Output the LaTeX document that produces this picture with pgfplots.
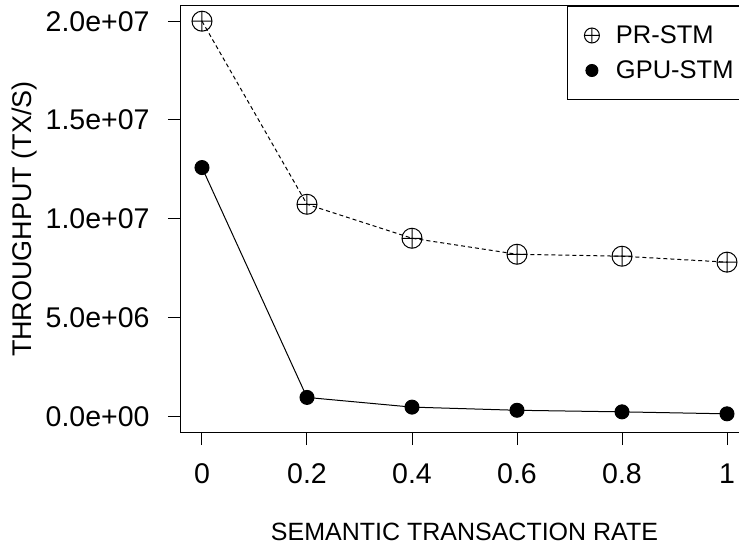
\documentclass[border=0pt]{standalone}
\usepackage{fontspec}
\setmainfont{Liberation Sans}
\usepackage{pgfplots}
\pgfplotsset{compat=1.18}
\newcommand\ticksize{\fontsize{28.5bp}{34bp}\selectfont}
\tikzset{ticklab/.style={font=\ticksize, inner sep=0pt, outer sep=0pt}}
\begin{document}
\begin{tikzpicture}
% page area; the frame runs slightly past its right edge
\useasboundingbox (-181bp,-117bp) rectangle (558bp,432bp);
\begin{axis}[
  scale only axis,
  width=567bp, height=426bp,
  xmin=-0.04, xmax=1.04,
  ymin=-8.0e5, ymax=2.077e7,
  clip=false,
  axis line style={line width=1bp, black},
  tick style={line width=1bp, black},
  tick align=outside,
  major tick length=13bp,
  tick pos=left,
  xtick={0,0.2,0.4,0.6,0.8,1},
  ytick={0,5e6,1e7,1.5e7,2e7},
  xticklabels={},
  yticklabels={},
  scaled y ticks=false,
  xlabel={SEMANTIC TRANSACTION RATE},
  ylabel={THROUGHPUT (TX/S)},
  xlabel style={font=\fontsize{25bp}{30bp}\selectfont, inner sep=0pt,
    at={(axis description cs:0.5,-0.2552)}, anchor=base},
  ylabel style={font=\fontsize{27bp}{32bp}\selectfont, inner sep=0pt,
    at={(axis description cs:-0.2628,0.5)}, anchor=base},
  legend style={at={(1,1)}, anchor=north east, draw=black, line width=1bp,
    inner xsep=14bp, inner ysep=11.5bp, row sep=0pt, column sep=0pt,
    font=\fontsize{25.5bp}{30bp}\selectfont, nodes={inner sep=0pt}},
  legend cell align=left,
]
\addplot[black, line width=1bp, dash pattern=on 4bp off 3bp,
  mark=oplus, mark size=10bp, mark options={solid},
  legend image code/.code={
    \path[draw=none] (-10bp,-17.5bp) rectangle (24bp,17.5bp);
    \draw[black, solid, line width=1bp, mark=oplus, mark size=7.5bp]
      plot[only marks] coordinates {(0bp,0bp)};}]
  coordinates {(0,2.0e7) (0.2,1.073e7) (0.4,9.01e6) (0.6,8.2e6) (0.8,8.1e6) (1,7.8e6)};
\addlegendentry{PR-STM}
\addplot[black, line width=1bp, mark=*, mark size=7bp, mark options={fill=black},
  legend image code/.code={
    \path[draw=none] (-10bp,-17.5bp) rectangle (24bp,17.5bp);
    \draw[black, fill=black, mark=*, mark size=6bp]
      plot[only marks] coordinates {(0bp,0bp)};}]
  coordinates {(0,1.259e7) (0.2,9.5e5) (0.4,4.6e5) (0.6,3.0e5) (0.8,2.2e5) (1,1.2e5)};
\addlegendentry{GPU-STM}
% tick labels, R style: scientific on y, plain on x
\node[ticklab, anchor=east] at ([xshift=-31.5bp]axis cs:-0.04,0) {0.0e+00};
\node[ticklab, anchor=east] at ([xshift=-31.5bp]axis cs:-0.04,5e6) {5.0e+06};
\node[ticklab, anchor=east] at ([xshift=-31.5bp]axis cs:-0.04,1e7) {1.0e+07};
\node[ticklab, anchor=east] at ([xshift=-31.5bp]axis cs:-0.04,1.5e7) {1.5e+07};
\node[ticklab, anchor=east] at ([xshift=-31.5bp]axis cs:-0.04,2e7) {2.0e+07};
\node[ticklab, anchor=base] at ([yshift=-51bp]axis cs:0,-8e5) {0};
\node[ticklab, anchor=base] at ([yshift=-51bp]axis cs:0.2,-8e5) {0.2};
\node[ticklab, anchor=base] at ([yshift=-51bp]axis cs:0.4,-8e5) {0.4};
\node[ticklab, anchor=base] at ([yshift=-51bp]axis cs:0.6,-8e5) {0.6};
\node[ticklab, anchor=base] at ([yshift=-51bp]axis cs:0.8,-8e5) {0.8};
\node[ticklab, anchor=base] at ([yshift=-51bp]axis cs:1,-8e5) {1};
\end{axis}
\end{tikzpicture}
\end{document}
